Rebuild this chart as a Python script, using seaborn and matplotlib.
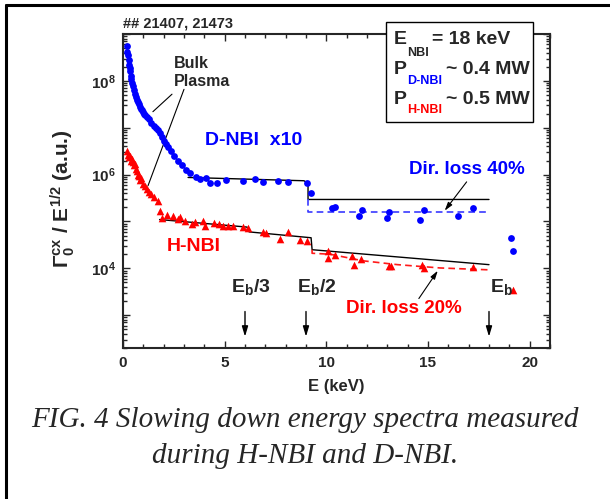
import matplotlib
matplotlib.use("Agg")
import matplotlib.pyplot as plt
from matplotlib.lines import Line2D
from matplotlib.patches import Rectangle
from matplotlib.ticker import FixedLocator, MultipleLocator, FuncFormatter, NullFormatter
import numpy as np
import seaborn as sns

# D-NBI (x10) measured points
d_energy = [0.2, 0.22, 0.25, 0.28, 0.3, 0.33, 0.35, 0.38, 0.4, 0.45, 0.5, 0.55, 0.6, 0.65,
            0.7, 0.75, 0.8, 0.85, 0.9, 0.95, 1.0, 1.05, 1.1, 1.2, 1.3, 1.4, 1.5, 1.6, 1.7,
            1.8, 1.9, 2.0, 2.1, 2.2, 2.35, 2.5, 2.7, 2.9, 3.1,
            3.3, 3.6, 3.8, 4.1, 4.3, 4.6, 5.06, 5.9, 6.5, 6.9, 7.6, 8.1, 9.05, 9.24,
            10.3, 10.45, 11.6, 11.75, 13.0, 13.1, 14.6, 14.8, 16.5, 17.2, 19.1, 19.2]
d_flux = [4.2e8, 5.5e8, 3.5e8, 2.8e8, 2.2e8, 1.9e8, 1.6e8, 1.3e8, 1.1e8, 8.9e7, 7.6e7, 6.3e7,
          5.2e7, 4.5e7, 4.0e7, 3.5e7, 3.2e7, 2.8e7, 2.5e7, 2.4e7, 2.2e7, 2.0e7, 1.9e7, 1.7e7,
          1.5e7, 1.26e7, 1.1e7, 1.0e7, 8.9e6, 7.9e6, 6.3e6, 5.2e6, 4.5e6, 3.8e6, 3.2e6,
          2.5e6, 2.0e6, 1.6e6, 1.26e6,
          1.07e6, 8.9e5, 7.9e5, 8.3e5, 6.6e5, 6.6e5, 7.6e5, 7.4e5, 7.9e5, 7.1e5, 7.4e5, 7.1e5,
          6.6e5, 4.1e5, 1.95e5, 2.0e5, 1.3e5, 1.8e5, 1.2e5, 1.6e5, 1.1e5, 1.8e5, 1.3e5, 1.9e5,
          4.5e4, 2.4e4]

# H-NBI measured points
h_energy = [0.2, 0.25, 0.3, 0.35, 0.4, 0.45, 0.5, 0.55, 0.6, 0.65, 0.7, 0.75, 0.8, 0.85, 0.9,
            1.0, 1.1, 1.2, 1.3, 1.4, 1.5, 1.7, 1.8, 1.9,
            2.15, 2.47, 2.7, 2.8, 3.05, 3.4, 3.55, 3.95, 4.05, 4.5, 4.7, 4.9, 5.17, 5.4, 5.9,
            6.15, 6.9, 7.05, 7.7, 8.1, 8.7, 9.05, 10.07, 10.07, 10.45, 11.25, 11.35, 11.7,
            13.1, 13.2, 14.7, 14.8, 17.2, 19.2]
h_flux = [3.2e6, 2.6e6, 2.4e6, 2.5e6, 2.0e6, 2.2e6, 1.9e6, 1.6e6, 1.65e6, 1.3e6, 1.2e6, 1.0e6,
          9.5e5, 7.6e5, 8.3e5, 6.3e5, 5.6e5, 5.0e5, 4.3e5, 3.8e5, 3.3e5, 2.75e5, 1.7e5, 1.17e5,
          1.38e5, 1.32e5, 1.12e5, 1.26e5, 1.02e5, 8.9e4, 9.8e4, 1.02e5, 8.1e4, 9.3e4, 8.9e4,
          8.1e4, 8.1e4, 8.1e4, 7.6e4, 7.2e4, 6.0e4, 5.8e4, 4.3e4, 6.0e4, 4.1e4, 3.9e4, 2.4e4,
          1.7e4, 1.95e4, 1.8e4, 1.2e4, 1.55e4, 1.15e4, 1.1e4, 1.2e4, 1.0e4, 1.05e4, 3.5e3]

# model curves
d_fit_energy = [3.2, 8.9, 9.1, 9.1, 18.0]
d_fit_flux = [8.7e5, 7.4e5, 6.5e5, 2.95e5, 2.95e5]
d_loss_energy = [9.1, 9.1, 18.0]
d_loss_flux = [2.95e5, 1.62e5, 1.62e5]
h_fit_energy = [1.8, 6.1, 6.2, 9.25, 9.3, 18.0]
h_fit_flux = [1.1e5, 7.6e4, 6.0e4, 4.5e4, 2.5e4, 1.2e4]
h_loss_energy = [9.3, 9.3, 10.2, 11.8, 13.5, 15.6, 18.0]
h_loss_flux = [2.5e4, 2.1e4, 2.0e4, 1.45e4, 1.2e4, 1.02e4, 9.3e3]

# beam energy fractions
eb_energy = [6.0, 9.0, 18.0]
eb_labels = [r"E$_\mathrm{b}$/3", r"E$_\mathrm{b}$/2", r"E$_\mathrm{b}$"]
eb_label_x = [6.3, 9.55, 18.6]

sns.set_style("ticks")
plt.rcParams['font.family'] = ['Liberation Sans', 'DejaVu Sans']
plt.rcParams['font.weight'] = 'bold'
plt.rcParams['mathtext.fontset'] = 'custom'
plt.rcParams['mathtext.rm'] = 'Liberation Sans:bold'
plt.rcParams['mathtext.it'] = 'Liberation Sans:bold'
plt.rcParams['mathtext.bf'] = 'Liberation Sans:bold'
plt.rcParams['mathtext.default'] = 'rm'

W, H = 610, 499


def fx(px):
    return px / W


def fy(py):
    return 1 - py / H


fig = plt.figure(figsize=(6.1, 4.99), dpi=100)
ax = fig.add_axes([fx(123), fy(348), fx(550) - fx(123), fy(34) - fy(348)])

sns.scatterplot(x=d_energy, y=d_flux, ax=ax, color='#0000ff', marker='o', s=24, linewidth=0, zorder=3)
sns.scatterplot(x=h_energy, y=h_flux, ax=ax, color='#ff0000', marker='^', s=30, linewidth=0, zorder=3)

sns.lineplot(x=d_fit_energy, y=d_fit_flux, ax=ax, estimator=None, sort=False, color='black', lw=1.0)
sns.lineplot(x=h_fit_energy, y=h_fit_flux, ax=ax, estimator=None, sort=False, color='black', lw=1.0)
sns.lineplot(x=d_loss_energy, y=d_loss_flux, ax=ax, estimator=None, sort=False,
             color='#3a3aff', lw=1.2, linestyle=(0, (4, 2.5)))
sns.lineplot(x=h_loss_energy, y=h_loss_flux, ax=ax, estimator=None, sort=False,
             color='#ff1a1a', lw=1.2, linestyle=(0, (4, 2.5)))

ax.set_yscale('log')
ax.set_xlim(0, 21)
ax.set_ylim(200, 1e9)

ax.xaxis.set_major_locator(MultipleLocator(5))
ax.xaxis.set_minor_locator(MultipleLocator(1))
ax.yaxis.set_major_locator(FixedLocator([10.0 ** k for k in range(3, 10)]))
ax.yaxis.set_minor_locator(FixedLocator([m * 10.0 ** k for k in range(2, 9) for m in range(2, 10)]))
ax.yaxis.set_minor_formatter(NullFormatter())


def ylab(v, pos):
    k = int(round(np.log10(v)))
    return r"10$^{%d}$" % k if k in (4, 6, 8) else ""


ax.yaxis.set_major_formatter(FuncFormatter(ylab))
ax.xaxis.set_major_formatter(FuncFormatter(lambda v, p: "%d" % v))

ax.tick_params(which='both', direction='in', top=True, right=True, width=1.0, labelsize=11)
ax.tick_params(which='major', length=5)
ax.tick_params(which='minor', length=3)
ax.tick_params(axis='x', pad=6)
ax.tick_params(axis='y', pad=5)
for s in ax.spines.values():
    s.set_linewidth(1.5)
    s.set_visible(True)

ax.set_xlabel("E (keV)", fontsize=12, fontweight='bold', labelpad=6)
ax.set_ylabel(r"$\Gamma_0^{cx}$ / E$^{1/2}$ (a.u.)", fontsize=15, fontweight='bold')
ax.yaxis.set_label_coords(-0.108, 0.475)
ax.text(0, 1.035, "## 21407, 21473", transform=ax.transAxes, fontsize=10.5,
        fontweight='bold', ha='left', va='center')

# labels on the plot
ax.text(2.5, 1.5e8, "Bulk\nPlasma", fontsize=11.5, fontweight='bold', ha='left', va='center',
        linespacing=1.3)
ax.plot([2.41, 1.47], [5.2e7, 2.2e7], color='black', lw=0.8)
ax.plot([3.0, 1.23], [6.6e7, 5.8e5], color='black', lw=0.8)
ax.text(4.03, 5.25e6, "D-NBI  x10", color='#0000ff', fontsize=14, fontweight='bold',
        ha='left', va='center')
ax.text(2.16, 3.0e4, "H-NBI", color='#ff0000', fontsize=14, fontweight='bold',
        ha='left', va='center')
ax.text(16.93, 1.26e6, "Dir. loss 40%", color='#0000ff', fontsize=13.5, fontweight='bold',
        ha='center', va='center')
ax.text(13.81, 1.38e3, "Dir. loss 20%", color='#ff0000', fontsize=13.5, fontweight='bold',
        ha='center', va='center')
arrow = dict(arrowstyle='-|>,head_length=0.5,head_width=0.15', color='black', lw=0.8,
             shrinkA=0, shrinkB=0)
ax.annotate("", xy=(15.82, 1.7e5), xytext=(16.9, 7.0e5), arrowprops=arrow)
ax.annotate("", xy=(15.48, 8.9e3), xytext=(14.55, 2.27e3), arrowprops=arrow)

for e, lab, lx in zip(eb_energy, eb_labels, eb_label_x):
    ax.text(lx, 4.0e3, lab, fontsize=14, fontweight='bold', ha='center', va='center')
    ax.annotate("", xy=(e, 3.5e2), xytext=(e, 1.2e3),
                arrowprops=dict(arrowstyle='-|>,head_length=0.6,head_width=0.18',
                                color='black', lw=1.0, shrinkA=0, shrinkB=0))

# parameter box
box = Rectangle((fx(386), fy(122)), fx(533) - fx(386), fy(22) - fy(122), transform=fig.transFigure,
                facecolor='white', edgecolor='black', lw=1.0, zorder=5)
fig.add_artist(box)
tkw = dict(fontsize=14, fontweight='bold', va='center', ha='left', zorder=6)
skw = dict(fontsize=9, fontweight='bold', va='center', ha='left', zorder=6)
fig.text(fx(394), fy(39), "E", **tkw)
fig.text(fx(407), fy(53), "NBI", **skw)
fig.text(fx(432), fy(39), "= 18 keV", **tkw)
fig.text(fx(394), fy(70), "P", **tkw)
fig.text(fx(407), fy(81), "D-NBI", color='#0000ff', **skw)
fig.text(fx(446), fy(70), "~ 0.4 MW", **tkw)
fig.text(fx(394), fy(99), "P", **tkw)
fig.text(fx(407), fy(110), "H-NBI", color='#ff0000', **skw)
fig.text(fx(446), fy(99), "~ 0.5 MW", **tkw)

# caption
fig.text(0.5, fy(420), "FIG. 4 Slowing down energy spectra measured", family='Liberation Serif',
         style='italic', fontweight='normal', fontsize=21, ha='center', va='center')
fig.text(0.5, fy(456), "during H-NBI and D-NBI.", family='Liberation Serif',
         style='italic', fontweight='normal', fontsize=21, ha='center', va='center')

# page frame
fig.add_artist(Line2D([fx(6), fx(6)], [0, fy(5)], transform=fig.transFigure, color='black', lw=2.2))
fig.add_artist(Line2D([fx(6), 1], [fy(5), fy(5)], transform=fig.transFigure, color='black', lw=2.2))

fig.savefig("out.png", dpi=100)
